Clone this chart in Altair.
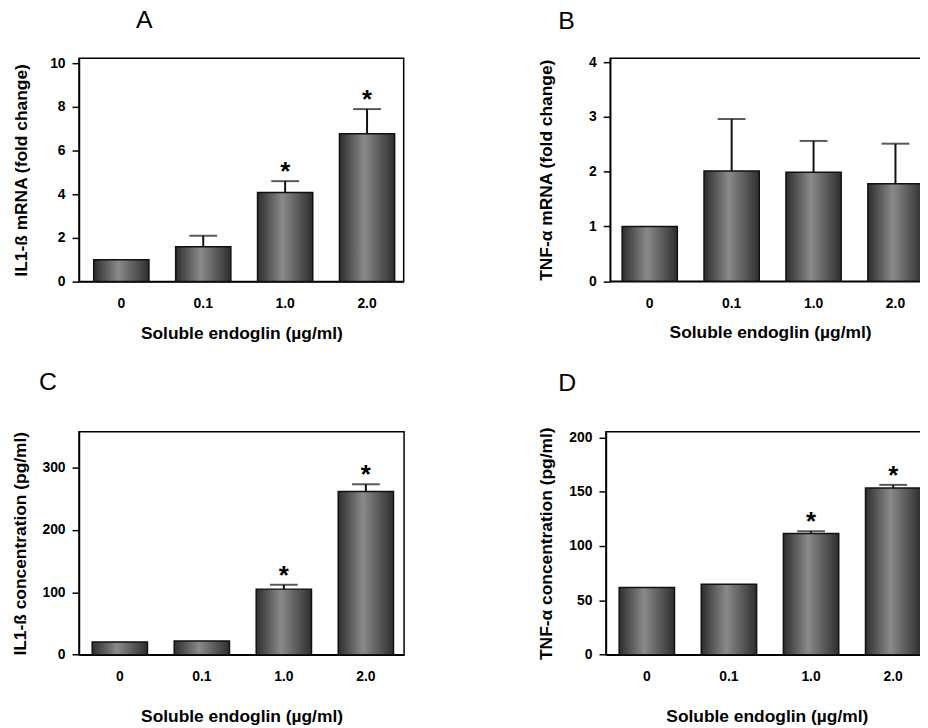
import altair as alt
import pandas as pd

doses = ["0", "0.1", "1.0", "2.0"]

A_vals = [1.0, 1.6, 4.08, 6.77]
A_err = [None, 2.1, 4.6, 7.9]
A_star = [False, False, True, True]

B_vals = [1.0, 2.01, 1.99, 1.78]
B_err = [None, 2.96, 2.56, 2.51]
B_star = [False, False, False, False]

C_vals = [20.2, 21.8, 105.0, 261.4]
C_err = [None, None, 112.0, 273.0]
C_star = [False, False, True, True]

D_vals = [61.9, 64.9, 111.5, 153.3]
D_err = [None, None, 113.6, 156.3]
D_star = [False, False, True, True]

FONT = "Liberation Sans"

grad = alt.Gradient(
    gradient="linear",
    stops=[
        alt.GradientStop(color="#2e2e2e", offset=0),
        alt.GradientStop(color="#8a8a8a", offset=0.45),
        alt.GradientStop(color="#2e2e2e", offset=1),
    ],
    x1=0, x2=1, y1=0, y2=0,
)


def panel(letter, ytitle, vals, errs, stars, ytop, yticks, w, h, po, align,
          tdx, toff, ytpad, xtpad):
    df = pd.DataFrame({
        "dose": doses,
        "value": vals,
        "err": errs,
        "star": ["*" if s else "" for s in stars],
    })
    xs = alt.Scale(domain=doses, paddingInner=0.326, paddingOuter=po, align=align)
    ys = alt.Scale(domain=[0, ytop], nice=False, zero=True)
    xaxis = alt.Axis(title="Soluble endoglin (µg/ml)", labelAngle=0, ticks=False,
                     tickSize=0, labelPadding=15, titlePadding=xtpad,
                     domainColor="black", domainWidth=1.5)
    yaxis = alt.Axis(title=ytitle, values=yticks, format="d", grid=False,
                     tickSize=7, tickWidth=1.5, tickColor="black",
                     labelPadding=7, titlePadding=ytpad,
                     domainColor="black", domainWidth=1.5)
    base = alt.Chart(df)
    bars = base.mark_bar(fill=grad, stroke="#111111", strokeWidth=1.5).encode(
        x=alt.X("dose:N", scale=xs, axis=xaxis, sort=doses),
        y=alt.Y("value:Q", scale=ys, axis=yaxis),
    )
    eb = base.transform_filter("isValid(datum.err)")
    rules = eb.mark_rule(color="#111111", strokeWidth=2).encode(
        x=alt.X("dose:N", sort=doses),
        y=alt.Y("value:Q"),
        y2="err:Q",
    )
    caps = eb.mark_tick(color="#111111", thickness=2, size=28).encode(
        x=alt.X("dose:N", sort=doses),
        y=alt.Y("err:Q"),
    )
    txt = eb.mark_text(font=FONT, fontSize=26, fontWeight="bold", baseline="alphabetic",
                       dy=-1, color="black").encode(
        x=alt.X("dose:N", sort=doses),
        y=alt.Y("err:Q"),
        text="star:N",
    )
    return alt.layer(bars, rules, caps, txt).properties(
        width=w, height=h,
        title=alt.TitleParams(letter, anchor="start", dx=tdx, fontSize=25,
                              fontWeight="normal", font=FONT, offset=toff,
                              color="black"),
    )


pA = panel("A", "IL1-ß mRNA (fold change)", A_vals, A_err, A_star, 10.23,
           [0, 2, 4, 6, 8, 10], 327, 225, 0.145, 0.62, 124.5, 23.7, 19.4, 14)
pB = panel("B", "TNF-α mRNA (fold change)", B_vals, B_err, B_star, 4.07,
           [0, 1, 2, 3, 4], 322, 224.6, 0.1145, 0.635, 21, 21.4, 33.5, 14)
pC = panel("C", "IL1-ß concentration (pg/ml)", C_vals, C_err, C_star, 357,
           [0, 100, 200, 300], 327.4, 224.4, 0.145, 0.555, 27.5, 36.3, 12.4, 24)
pD = panel("D", "TNF-α concentration (pg/ml)", D_vals, D_err, D_star, 205.1,
           [0, 50, 100, 150, 200], 324, 224.4, 0.122, 0.66, 21, 31.2, 13.6, 24)

row1 = alt.hconcat(pA, pB, spacing=132)
row2 = alt.hconcat(pC, pD, spacing=131.7)
chart = alt.vconcat(row1, row2, spacing=26.3).properties(
    padding={"left": 2.5, "top": -4, "right": -11, "bottom": 0}
).configure_view(stroke="black", strokeWidth=1.5).configure_axis(
    labelFont=FONT, labelFontSize=14, labelFontWeight="bold", labelColor="black",
    titleFont=FONT, titleFontSize=17.5, titleFontWeight="bold", titleColor="black",
)

chart.save("out.html", embed_options={"renderer": "svg", "actions": False})
